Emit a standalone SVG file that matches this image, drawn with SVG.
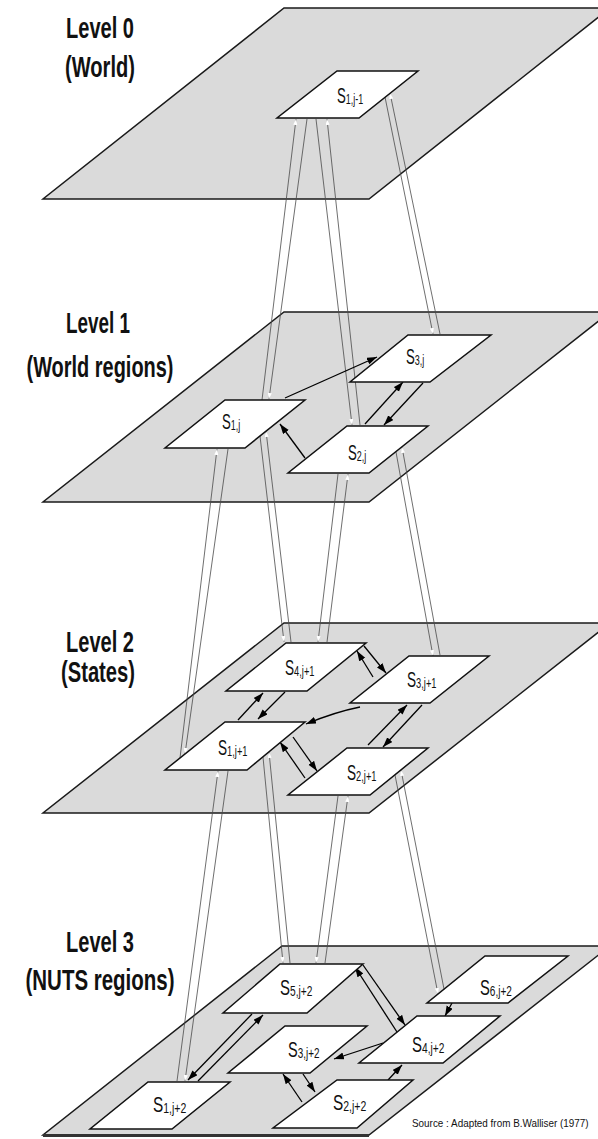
<svg xmlns="http://www.w3.org/2000/svg" width="598" height="1139" viewBox="0 0 598 1139">
<style>
.plane{fill:#dadada;stroke:#1a1a1a;stroke-width:1.5}
.node{fill:#fff;stroke:#111;stroke-width:1.5}
.lvl{font-family:"Liberation Sans",Arial,sans-serif;font-weight:bold;font-size:30px;fill:#111;text-anchor:middle}
.lbl{font-family:"Liberation Sans",Arial,sans-serif;font-size:22px;fill:#111}
.sub{font-size:15px}
.dbl{stroke:#4a4a4a;stroke-width:0.8;fill:none}
.up{marker-end:url(#wh)}
.arr{stroke:#000;stroke-width:1.3;fill:none;marker-end:url(#ah)}
.src{font-family:"Liberation Sans",Arial,sans-serif;font-size:11px;fill:#111}
</style>
<defs>
<marker id="ah" markerUnits="userSpaceOnUse" markerWidth="11" markerHeight="8" refX="10" refY="3.5" orient="auto"><path d="M0,0 L10,3.5 L0,7 z" fill="#000"/></marker>
<marker id="wh" markerUnits="userSpaceOnUse" markerWidth="7" markerHeight="5" refX="6" refY="2" orient="auto"><path d="M0,0 L6,2 L0,4 z" fill="#fff"/></marker>
</defs>
<rect width="598" height="1139" fill="#fff"/>

<g id="planes">
<polygon id="plane0" class="plane" points="284,8 610,8 369,199 43,199"/>
<polygon id="plane1" class="plane" points="284,312 610,312 369,502 43,502"/>
<polygon id="plane2" class="plane" points="284,623 610,623 369,813 43,813"/>
<polygon id="plane3" class="plane" points="282,946 610,946 369,1135 43,1135"/>
<line x1="43" y1="1135.5" x2="369" y2="1135.5" stroke="#333" stroke-width="3"/>
</g>

<g id="labels">
<text class="lvl" x="100" y="38" textLength="68" lengthAdjust="spacingAndGlyphs">Level 0</text>
<text class="lvl" x="100" y="77" textLength="70" lengthAdjust="spacingAndGlyphs">(World)</text>
<text class="lvl" x="98" y="333" textLength="64" lengthAdjust="spacingAndGlyphs">Level 1</text>
<text class="lvl" x="100" y="377" textLength="147" lengthAdjust="spacingAndGlyphs">(World regions)</text>
<text class="lvl" x="100" y="652" textLength="68" lengthAdjust="spacingAndGlyphs">Level 2</text>
<text class="lvl" x="98" y="682" textLength="74" lengthAdjust="spacingAndGlyphs">(States)</text>
<text class="lvl" x="100" y="952" textLength="68" lengthAdjust="spacingAndGlyphs">Level 3</text>
<text class="lvl" x="100" y="990" textLength="149" lengthAdjust="spacingAndGlyphs">(NUTS regions)</text>
<text class="src" transform="translate(412,1127) scale(0.9,1)">Source : Adapted from B.Walliser (1977)</text>
</g>

<g id="connectors">
<line class="dbl up" x1="262" y1="400" x2="296" y2="119"/>
<line class="dbl up" x1="307" y1="119" x2="269" y2="399"/>
<line class="dbl up" x1="316" y1="119" x2="352" y2="425"/>
<line class="dbl up" x1="360" y1="425" x2="327" y2="119"/>
<line class="dbl up" x1="385" y1="97" x2="433" y2="334"/>
<line class="dbl up" x1="440" y1="334" x2="390" y2="93"/>

<line class="dbl up" x1="180" y1="758" x2="217" y2="449"/>
<line class="dbl up" x1="228" y1="449" x2="185" y2="754"/>
<line class="dbl up" x1="260" y1="436" x2="284" y2="642"/>
<line class="dbl up" x1="291" y1="642" x2="266" y2="431"/>
<line class="dbl up" x1="338" y1="474" x2="318" y2="642"/>
<line class="dbl up" x1="327" y1="642" x2="348" y2="474"/>
<line class="dbl up" x1="396" y1="452" x2="433" y2="656"/>
<line class="dbl up" x1="440" y1="655" x2="402" y2="447"/>

<line class="dbl up" x1="177" y1="1081" x2="218" y2="771"/>
<line class="dbl up" x1="228" y1="771" x2="185" y2="1081"/>
<line class="dbl up" x1="263" y1="757" x2="283" y2="963"/>
<line class="dbl up" x1="290" y1="963" x2="269" y2="752"/>
<line class="dbl up" x1="338" y1="796" x2="316" y2="963"/>
<line class="dbl up" x1="325" y1="963" x2="348" y2="796"/>
<line class="dbl up" x1="395" y1="775" x2="438" y2="994"/>
<line class="dbl up" x1="444" y1="989" x2="401" y2="770"/>

<line class="arr" x1="285" y1="398" x2="377" y2="357"/>
<line class="arr" x1="305" y1="458" x2="280" y2="424"/>
<line class="arr" x1="365" y1="424" x2="403" y2="382"/>
<line class="arr" x1="423" y1="383" x2="384" y2="425"/>

<line class="arr" x1="373" y1="677" x2="357" y2="651"/>
<line class="arr" x1="364" y1="646" x2="386" y2="673"/>
<line class="arr" x1="238" y1="720" x2="263" y2="693"/>
<line class="arr" x1="285" y1="692" x2="258" y2="719"/>
<path class="arr" d="M360,707 Q335,712 306,724"/>
<line class="arr" x1="305" y1="778" x2="280" y2="742"/>
<line class="arr" x1="293" y1="737" x2="317" y2="771"/>
<line class="arr" x1="368" y1="745" x2="407" y2="705"/>
<line class="arr" x1="422" y1="705" x2="383" y2="747"/>

<line class="arr" x1="198" y1="1081" x2="263" y2="1015"/>
<line class="arr" x1="252" y1="1014" x2="188" y2="1080"/>
<line class="arr" x1="397" y1="1032" x2="355" y2="967"/>
<line class="arr" x1="363" y1="965" x2="405" y2="1025"/>
<line class="arr" x1="452" y1="1003" x2="445" y2="1016"/>
<line class="arr" x1="383" y1="1043" x2="334" y2="1059"/>
<line class="arr" x1="388" y1="1080" x2="402" y2="1065"/>
<line class="arr" x1="302" y1="1102" x2="283" y2="1074"/>
<line class="arr" x1="303" y1="1074" x2="315" y2="1092"/>
</g>

<g id="n-s1-jm1"><polygon class="node" points="337,71 418,71 359,118 277,118"/><text class="lbl" transform="translate(337,103) scale(0.6,1)">S<tspan class="sub" dy="1">1,j-1</tspan></text></g>

<g id="n-s1-j"><polygon class="node" points="225,400 305,400 245,448 165,448"/><text class="lbl" transform="translate(222,429) scale(0.6,1)">S<tspan class="sub" dy="1">1,j</tspan></text></g>
<g id="n-s2-j"><polygon class="node" points="347,426 428,426 369,473 288,473"/><text class="lbl" transform="translate(348,460) scale(0.6,1)">S<tspan class="sub" dy="1">2,j</tspan></text></g>
<g id="n-s3-j"><polygon class="node" points="408,335 491,335 430,382 350,382"/><text class="lbl" transform="translate(406,364) scale(0.6,1)">S<tspan class="sub" dy="1">3,j</tspan></text></g>

<g id="n-s4-jp1"><polygon class="node" points="286,643 366,643 307,691 226,691"/><text class="lbl" transform="translate(285,675) scale(0.62,1)">S<tspan class="sub" dy="1">4,j+1</tspan></text></g>
<g id="n-s1-jp1"><polygon class="node" points="225,722 305,722 247,770 165,770"/><text class="lbl" transform="translate(218,755) scale(0.62,1)">S<tspan class="sub" dy="1">1,j+1</tspan></text></g>
<g id="n-s3-jp1"><polygon class="node" points="409,656 489,656 430,703 350,703"/><text class="lbl" transform="translate(407,687) scale(0.62,1)">S<tspan class="sub" dy="1">3,j+1</tspan></text></g>
<g id="n-s2-jp1"><polygon class="node" points="347,748 428,748 370,795 288,795"/><text class="lbl" transform="translate(347,780) scale(0.62,1)">S<tspan class="sub" dy="1">2,j+1</tspan></text></g>

<g id="n-s5-jp2"><polygon class="node" points="280,964 363,964 307,1013 223,1013"/><text class="lbl" transform="translate(280,995) scale(0.68,1)">S<tspan class="sub" dy="1">5,j+2</tspan></text></g>
<g id="n-s6-jp2"><polygon class="node" points="485,956 568,956 508,1003 427,1003"/><text class="lbl" transform="translate(480,995) scale(0.67,1)">S<tspan class="sub" dy="1">6,j+2</tspan></text></g>
<g id="n-s4-jp2"><polygon class="node" points="417,1016 500,1016 443,1063 359,1063"/><text class="lbl" transform="translate(412,1052) scale(0.68,1)">S<tspan class="sub" dy="1">4,j+2</tspan></text></g>
<g id="n-s3-jp2"><polygon class="node" points="285,1026 367,1026 310,1073 228,1073"/><text class="lbl" transform="translate(288,1057) scale(0.66,1)">S<tspan class="sub" dy="1">3,j+2</tspan></text></g>
<g id="n-s2-jp2"><polygon class="node" points="337,1080 413,1080 357,1128 273,1128"/><text class="lbl" transform="translate(333,1110) scale(0.7,1)">S<tspan class="sub" dy="1">2,j+2</tspan></text></g>
<g id="n-s1-jp2"><polygon class="node" points="148,1082 230,1082 172,1129 90,1129"/><text class="lbl" transform="translate(153,1112) scale(0.7,1)">S<tspan class="sub" dy="1">1,j+2</tspan></text></g>
</svg>
